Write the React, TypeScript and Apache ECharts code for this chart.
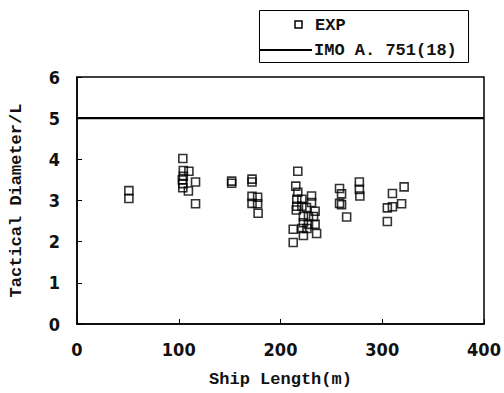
import React, { useEffect, useRef } from "react";
import * as echarts from "echarts";

const shipLength: number[] = [
  51, 51,
  104, 104.5, 110, 104.5, 103.5, 104, 104, 109.5, 116.5, 116.5,
  152, 152,
  172, 172, 172, 172, 177.5, 177.5, 178,
  217, 215, 217, 216, 216, 215.5, 221, 221, 230.5, 230.5, 225.5, 234, 222.5, 227.5, 232.5, 222.5, 227.5, 234, 221, 226, 235.5, 222.5, 212.5, 212.5,
  258, 260, 258, 260, 265,
  277.5, 277.5, 278,
  310, 321.5, 305, 310, 319, 305,
];
const tacticalDiameter: number[] = [
  3.24, 3.05,
  4.02, 3.73, 3.71, 3.59, 3.5, 3.41, 3.31, 3.23, 3.45, 2.92,
  3.47, 3.42,
  3.52, 3.45, 3.1, 2.93, 3.08, 2.92, 2.69,
  3.71, 3.35, 3.2, 3.03, 2.86, 2.77, 3.03, 2.86, 3.11, 2.95, 2.83, 2.74, 2.61, 2.61, 2.61, 2.46, 2.42, 2.42, 2.32, 2.32, 2.2, 2.15, 2.3, 1.98,
  3.29, 3.16, 2.93, 2.9, 2.6,
  3.45, 3.27, 3.11,
  3.17, 3.33, 2.82, 2.85, 2.92, 2.49,
];
const imoLength: number[] = [0, 400];
const imoValue: number[] = [5, 5];
const seriesNames: string[] = ["EXP", "IMO A. 751(18)"];
const xTitle = "Ship Length(m)";
const yTitle = "Tactical Diameter/L";

const tickFont = '"DejaVu Sans Condensed", "DejaVu Sans", sans-serif';
const monoFont = '"Liberation Mono", "DejaVu Sans Mono", monospace';

export default function App() {
  const ref = useRef<HTMLDivElement>(null);
  useEffect(() => {
    if (!ref.current) return;
    const chart = echarts.init(ref.current, undefined, { renderer: "svg" });
    const expData = shipLength.map((x, i) => [x, tacticalDiameter[i]]);
    const imoData = imoLength.map((x, i) => [x, imoValue[i]]);
    chart.setOption({
      animation: false,
      backgroundColor: "#fff",
      grid: {
        left: 77,
        right: 20,
        top: 77,
        bottom: 68,
        show: true,
        borderColor: "#000",
        borderWidth: 1.5,
        backgroundColor: "transparent",
      },
      xAxis: {
        type: "value",
        min: 0,
        max: 400,
        interval: 100,
        name: xTitle,
        nameLocation: "middle",
        nameGap: 47,
        nameTextStyle: { fontFamily: monoFont, fontSize: 17, fontWeight: "bold", color: "#111" },
        axisLine: { show: true, lineStyle: { color: "#000", width: 1.5 } },
        axisTick: { show: true, inside: true, length: 5, lineStyle: { color: "#000" } },
        axisLabel: { fontFamily: tickFont, fontSize: 18, fontWeight: "bold", color: "#111", margin: 16 },
        splitLine: { show: false },
      },
      yAxis: {
        type: "value",
        min: 0,
        max: 6,
        interval: 1,
        name: yTitle,
        nameLocation: "middle",
        nameGap: 52,
        nameRotate: 90,
        nameTextStyle: { fontFamily: monoFont, fontSize: 17, fontWeight: "bold", color: "#111" },
        axisLine: { show: true, lineStyle: { color: "#000", width: 1.5 } },
        axisTick: { show: true, inside: true, length: 5, lineStyle: { color: "#000" } },
        axisLabel: { fontFamily: tickFont, fontSize: 18, fontWeight: "bold", color: "#111", margin: 17 },
        splitLine: { show: false },
      },
      series: [
        {
          name: seriesNames[0],
          type: "scatter",
          data: expData,
          symbol: "rect",
          symbolSize: 8,
          itemStyle: { color: "rgba(255,255,255,0)", borderColor: "#000", borderWidth: 1.6 },
        },
        {
          name: seriesNames[1],
          type: "line",
          data: imoData,
          symbol: "none",
          lineStyle: { color: "#000", width: 2.2 },
        },
      ],
      graphic: [
        {
          type: "rect",
          shape: { x: 259.5, y: 10.5, width: 209, height: 52 },
          style: { fill: "#fff", stroke: "#000", lineWidth: 1 },
        },
        {
          type: "rect",
          shape: { x: 295, y: 21, width: 7, height: 7 },
          style: { fill: "none", stroke: "#000", lineWidth: 1.5 },
        },
        {
          type: "text",
          x: 315,
          y: 25,
          style: { text: seriesNames[0], fontFamily: monoFont, fontSize: 17, fontWeight: "bold", fill: "#111", verticalAlign: "middle" },
        },
        {
          type: "line",
          shape: { x1: 260, y1: 50, x2: 312, y2: 50 },
          style: { stroke: "#000", lineWidth: 2 },
        },
        {
          type: "text",
          x: 314,
          y: 50,
          style: { text: seriesNames[1], fontFamily: monoFont, fontSize: 17, fontWeight: "bold", fill: "#111", verticalAlign: "middle" },
        },
      ],
    });
    return () => chart.dispose();
  }, []);
  return <div ref={ref} style={{ width: 504, height: 393, position: "absolute", left: 0, top: 0 }} />;
}
